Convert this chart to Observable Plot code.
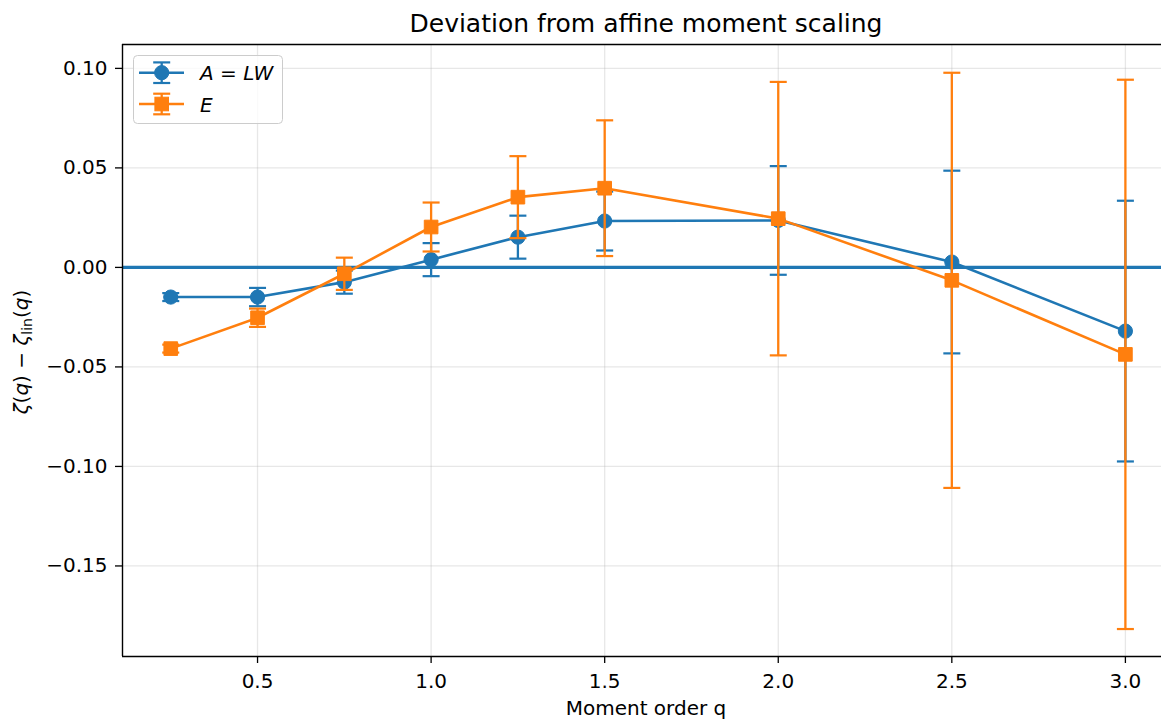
<!DOCTYPE html>
<html><head><meta charset="utf-8">
<script src="https://cdn.jsdelivr.net/npm/d3@7"></script>
<script src="https://cdn.jsdelivr.net/npm/@observablehq/plot@0.6"></script>
<style>body{margin:0;background:#fff;overflow:hidden} svg{display:block}</style>
</head><body><div id="chart"></div>
<script>
const q = [0.25, 0.5, 0.75, 1.0, 1.25, 1.5, 2.0, 2.5, 3.0];
const seriesA = [-0.0149, -0.0149, -0.0074, 0.0039, 0.0152, 0.0233, 0.0236, 0.0027, -0.0320];
const errA = [0.0020, 0.0046, 0.0058, 0.0083, 0.0108, 0.0148, 0.0273, 0.0459, 0.0655];
const seriesE = [-0.0408, -0.0253, -0.0032, 0.0203, 0.0353, 0.0398, 0.0245, -0.0065, -0.0437];
const errE = [0.0020, 0.0046, 0.0081, 0.0123, 0.0206, 0.0341, 0.0687, 0.1043, 0.1380];
const xTicks = [0.5, 1.0, 1.5, 2.0, 2.5, 3.0];
const yTicks = [-0.15, -0.10, -0.05, 0.00, 0.05, 0.10];
const xDomain = [0.111, 3.104];
const yDomain = [-0.1955, 0.112];
const blue = "#1f77b4", orange = "#ff7f0e";

const mk = (vals, errs) => q.map((x, i) => ({q: x, v: vals[i], lo: vals[i] - errs[i], hi: vals[i] + errs[i]}));
const dataA = mk(seriesA, errA);
const dataE = mk(seriesE, errE);

const capSym = {draw(ctx, size) { const w = Math.sqrt(size / Math.PI); ctx.moveTo(-w, 0); ctx.lineTo(w, 0); }};

function seriesMarks(data, color, symbol, r) {
  return [
    Plot.ruleX(data, {x: "q", y1: "lo", y2: "hi", stroke: color, strokeWidth: 2.3}),
    Plot.dot(data, {x: "q", y: "hi", symbol: capSym, r: 8.5, stroke: color, fill: "none", strokeWidth: 2.2}),
    Plot.dot(data, {x: "q", y: "lo", symbol: capSym, r: 8.5, stroke: color, fill: "none", strokeWidth: 2.2}),
    Plot.line(data, {x: "q", y: "v", stroke: color, strokeWidth: 2.6}),
    Plot.dot(data, {x: "q", y: "v", symbol, r, fill: color, stroke: color, strokeWidth: 1})
  ];
}

const svg = Plot.plot({
  width: 1161, height: 719,
  marginLeft: 122, marginRight: 0, marginTop: 44, marginBottom: 63,
  style: {fontFamily: "DejaVu Sans", fontSize: "20px", color: "#000", background: "#fff"},
  x: {domain: xDomain},
  y: {domain: yDomain},
  marks: [
    Plot.ruleX(xTicks, {x: d => d, stroke: "#b0b0b0", strokeOpacity: 0.3, strokeWidth: 1.3}),
    Plot.ruleY(yTicks, {y: d => d, stroke: "#b0b0b0", strokeOpacity: 0.3, strokeWidth: 1.3}),
    Plot.ruleY([0], {y: d => d, stroke: blue, strokeWidth: 3.4}),
    ...seriesMarks(dataA, blue, "circle", 7.1),
    ...seriesMarks(dataE, orange, "square", 7.7),
    Plot.ruleX([xDomain[0]], {x: d => d, stroke: "#000", strokeWidth: 1.4}),
    Plot.ruleY(yDomain, {y: d => d, stroke: "#000", strokeWidth: 1.4}),
    Plot.axisX({ticks: xTicks, tickSize: 7, tickPadding: 10, tickFormat: d3.format(".1f"), label: null, strokeWidth: 1.3}),
    Plot.axisY({ticks: yTicks, tickSize: 7, tickPadding: 8, tickFormat: d3.format(".2f"), label: null, strokeWidth: 1.3})
  ]
});
document.getElementById("chart").appendChild(svg);

const s = d3.select(svg);
const font = "DejaVu Sans";
// title
s.append("text").attr("x", 646).attr("y", 32).attr("text-anchor", "middle")
  .attr("font-family", font).attr("font-size", 25).attr("fill", "#000")
  .text("Deviation from affine moment scaling");
// x label
s.append("text").attr("x", 646).attr("y", 715).attr("text-anchor", "middle")
  .attr("font-family", font).attr("font-size", 20).attr("fill", "#000")
  .text("Moment order q");
// y label
const yl = s.append("text").attr("transform", "translate(28,352) rotate(-90)")
  .attr("text-anchor", "middle").attr("font-family", font).attr("font-size", 20).attr("fill", "#000");
yl.append("tspan").attr("font-style", "italic").text("ζ");
yl.append("tspan").text("(");
yl.append("tspan").attr("font-style", "italic").text("q");
yl.append("tspan").text(") − ");
yl.append("tspan").attr("font-style", "italic").text("ζ");
yl.append("tspan").attr("font-size", 14).attr("dy", 4).text("lin");
yl.append("tspan").attr("dy", -4).text("(");
yl.append("tspan").attr("font-style", "italic").text("q");
yl.append("tspan").text(")");

// legend
const lg = s.append("g");
lg.append("rect").attr("x", 133.5).attr("y", 55.5).attr("width", 149).attr("height", 68).attr("rx", 4)
  .attr("fill", "#fff").attr("fill-opacity", 0.8).attr("stroke", "#cccccc").attr("stroke-width", 1);
function handle(yc, color, square, label) {
  const cx = 161.7;
  lg.append("line").attr("x1", 139).attr("x2", 184).attr("y1", yc).attr("y2", yc).attr("stroke", color).attr("stroke-width", 2.6);
  lg.append("line").attr("x1", cx).attr("x2", cx).attr("y1", yc - 10.3).attr("y2", yc + 10.3).attr("stroke", color).attr("stroke-width", 2.3);
  [yc - 10.3, yc + 10.3].forEach(y => lg.append("line").attr("x1", cx - 8.5).attr("x2", cx + 8.5).attr("y1", y).attr("y2", y).attr("stroke", color).attr("stroke-width", 2.2));
  if (square) lg.append("rect").attr("x", cx - 6.8).attr("y", yc - 6.8).attr("width", 13.6).attr("height", 13.6).attr("fill", color).attr("stroke", color);
  else lg.append("circle").attr("cx", cx).attr("cy", yc).attr("r", 7.1).attr("fill", color).attr("stroke", color);
  const t = lg.append("text").attr("x", 200).attr("y", yc + 7.5).attr("text-anchor", "start")
    .attr("font-family", font).attr("font-size", 20).attr("fill", "#000");
  label(t);
}
handle(72.7, blue, false, t => {
  t.append("tspan").attr("font-style", "italic").text("A");
  t.append("tspan").text(" = ");
  t.append("tspan").attr("font-style", "italic").text("LW");
});
handle(104, orange, true, t => {
  t.append("tspan").attr("font-style", "italic").text("E");
});
</script>
</body></html>
